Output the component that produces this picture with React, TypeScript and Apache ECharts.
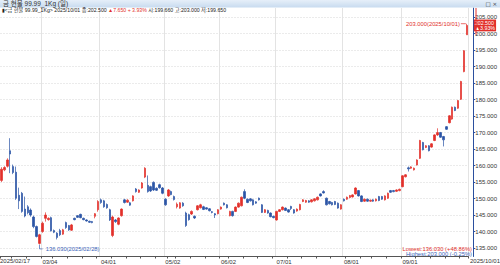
import React, { useEffect, useRef } from "react";
import * as echarts from "echarts";

const dates = [
  "2025/02/11","2025/02/12","2025/02/13","2025/02/14","2025/02/17","2025/02/18","2025/02/19","2025/02/20","2025/02/21","2025/02/24",
  "2025/02/25","2025/02/26","2025/02/27","2025/02/28","2025/03/04","2025/03/05","2025/03/06","2025/03/07","2025/03/10","2025/03/11",
  "2025/03/12","2025/03/13","2025/03/14","2025/03/17","2025/03/18","2025/03/19","2025/03/20","2025/03/21","2025/03/24","2025/03/25",
  "2025/03/26","2025/03/27","2025/03/28","2025/03/31","2025/04/01","2025/04/02","2025/04/03","2025/04/04","2025/04/07","2025/04/08",
  "2025/04/09","2025/04/10","2025/04/11","2025/04/14","2025/04/15","2025/04/16","2025/04/17","2025/04/18","2025/04/21","2025/04/22",
  "2025/04/23","2025/04/24","2025/04/25","2025/04/28","2025/04/29","2025/04/30","2025/05/02","2025/05/07","2025/05/08","2025/05/09",
  "2025/05/12","2025/05/13","2025/05/14","2025/05/15","2025/05/16","2025/05/19","2025/05/20","2025/05/21","2025/05/22","2025/05/23",
  "2025/05/26","2025/05/27","2025/05/28","2025/05/29","2025/05/30","2025/06/02","2025/06/04","2025/06/05","2025/06/09","2025/06/10",
  "2025/06/11","2025/06/12","2025/06/13","2025/06/16","2025/06/17","2025/06/18","2025/06/19","2025/06/20","2025/06/23","2025/06/24",
  "2025/06/25","2025/06/26","2025/06/27","2025/06/30","2025/07/01","2025/07/02","2025/07/03","2025/07/04","2025/07/07","2025/07/08",
  "2025/07/09","2025/07/10","2025/07/11","2025/07/14","2025/07/15","2025/07/16","2025/07/17","2025/07/18","2025/07/21","2025/07/22",
  "2025/07/23","2025/07/24","2025/07/25","2025/07/28","2025/07/29","2025/07/30","2025/07/31","2025/08/01","2025/08/04","2025/08/05",
  "2025/08/06","2025/08/07","2025/08/08","2025/08/11","2025/08/12","2025/08/13","2025/08/14","2025/08/18","2025/08/19","2025/08/20",
  "2025/08/21","2025/08/22","2025/08/25","2025/08/26","2025/08/27","2025/08/28","2025/08/29","2025/09/01","2025/09/02","2025/09/03",
  "2025/09/04","2025/09/05","2025/09/08","2025/09/09","2025/09/10","2025/09/11","2025/09/12","2025/09/15","2025/09/16","2025/09/17",
  "2025/09/18","2025/09/19","2025/09/22","2025/09/23","2025/09/24","2025/09/25","2025/09/26","2025/09/29","2025/09/30","2025/10/01",
];

const opens = [
  155.5,158.7,159.8,164.5,159.7,158.0,151.0,151.6,146.8,147.5,
  146.5,144.4,141.5,136.4,140.0,144.0,143.6,144.2,140.3,139.5,
  140.3,139.2,142.7,141.8,140.4,144.0,144.8,145.2,144.0,143.5,
  143.1,143.0,144.6,146.6,149.6,149.3,148.2,146.6,138.8,143.5,
  142.2,144.8,149.6,148.9,148.7,149.3,152.9,151.9,153.2,156.5,
  154.0,153.6,154.9,153.1,154.2,153.2,149.8,150.8,152.1,150.6,
  147.5,147.1,148.6,145.6,145.1,145.3,144.6,146.6,147.2,147.5,
  147.2,146.9,146.0,145.4,145.4,146.8,148.6,148.1,144.8,146.1,
  146.1,147.4,147.8,152.1,149.8,149.9,149.6,149.0,150.1,148.1,
  145.8,146.4,145.6,144.6,143.5,146.1,146.6,147.1,146.6,147.6,
  146.6,146.2,146.6,149.1,148.9,149.3,149.0,149.3,149.6,151.4,
  152.1,150.1,149.1,148.8,149.1,148.6,146.8,149.8,149.8,150.3,
  150.5,151.4,152.4,150.8,149.2,149.8,149.2,149.6,149.3,150.6,
  150.6,149.6,150.1,152.4,152.4,152.2,152.4,153.6,156.6,159.3,
  159.2,158.7,160.2,162.2,167.0,165.5,166.0,165.6,167.6,169.3,
  170.0,168.8,171.8,173.0,174.1,177.7,177.4,180.1,188.5,199.66,
];

const closes = [
  158.9,159.4,161.7,163.5,157.9,150.1,149.3,146.1,144.7,145.7,
  145.0,141.5,138.5,139.0,142.5,145.0,144.0,140.2,139.8,138.2,
  139.0,140.5,141.2,140.5,142.0,143.6,144.3,144.2,143.6,143.2,
  142.8,142.7,145.4,149.1,148.8,147.5,147.2,143.5,144.4,143.0,
  144.1,146.8,148.8,149.5,148.0,150.8,152.1,152.6,154.7,159.2,
  152.1,152.3,152.6,152.5,153.3,151.6,148.1,152.6,151.2,149.7,
  148.3,148.7,147.8,141.8,143.6,146.1,144.1,147.8,148.1,146.7,
  146.8,146.3,145.8,145.0,146.6,147.4,148.1,147.2,146.1,144.8,
  147.4,148.6,150.4,150.1,148.8,149.3,148.1,148.6,149.6,145.8,
  146.6,145.6,144.5,144.2,146.1,146.6,147.4,146.4,145.9,147.0,
  145.6,146.8,148.2,149.6,149.4,148.9,149.6,149.9,150.4,150.8,
  151.7,148.1,148.4,148.1,148.2,147.1,148.1,149.3,150.4,150.9,
  151.1,153.2,150.8,149.1,149.8,149.2,149.5,149.2,149.8,149.4,
  149.8,150.8,151.6,151.9,152.1,152.6,152.8,156.9,157.2,159.0,
  159.6,159.2,161.7,167.6,164.8,166.0,164.5,166.6,169.3,170.0,
  168.6,167.8,171.0,175.1,177.7,176.7,179.7,185.5,194.85,202.5,
];

const lows = [
  155.0,158.3,159.4,157.7,157.4,149.6,146.8,145.7,144.3,145.2,
  144.5,141.0,138.2,136.03,139.6,143.0,143.3,140.0,139.5,137.6,
  138.6,139.0,140.8,140.2,140.2,143.4,144.1,144.0,143.4,143.0,
  142.6,142.5,144.0,146.0,148.4,147.2,146.9,143.2,138.3,142.6,
  141.9,144.5,148.5,148.7,147.8,149.1,151.8,151.7,153.0,156.2,
  151.8,152.0,152.3,152.3,153.0,151.3,147.8,150.5,151.0,149.4,
  147.0,146.9,147.5,141.4,143.3,145.0,143.8,146.4,147.0,146.5,
  146.6,146.1,145.5,144.1,145.2,146.6,147.9,147.0,144.6,144.5,
  145.9,147.2,147.6,149.8,148.6,149.1,147.9,148.4,149.4,145.6,
  145.6,145.4,144.3,144.0,143.3,145.9,146.4,146.2,145.7,146.5,
  145.4,146.0,146.4,148.9,148.7,148.7,148.8,149.1,149.4,150.6,
  151.5,147.9,148.2,147.9,148.0,146.9,146.6,149.1,149.6,150.1,
  150.3,151.2,150.6,148.9,149.0,149.0,149.0,149.0,149.1,149.2,
  149.6,149.4,149.9,151.7,151.9,152.0,152.2,153.4,156.4,158.2,
  159.0,158.5,160.0,162.0,164.6,165.3,164.3,165.4,167.4,169.0,
  168.4,165.8,170.8,172.8,173.9,176.5,177.2,179.9,188.3,199.65,
];

const highs = [
  159.5,159.8,162.2,168.3,160.3,159.7,153.3,152.0,150.6,148.0,
  147.0,144.8,141.8,139.3,143.0,145.8,144.3,144.5,140.6,139.8,
  140.8,140.8,143.0,142.0,142.3,144.2,145.0,145.4,144.2,143.7,
  143.3,143.2,145.6,149.5,150.0,149.6,148.5,146.9,144.8,143.8,
  144.3,147.0,149.9,149.8,149.0,151.0,153.2,152.8,155.0,159.5,
  157.0,153.9,155.2,153.4,154.5,153.5,150.1,152.9,152.4,150.9,
  148.8,148.9,148.9,146.0,145.4,146.4,144.9,148.0,148.4,147.8,
  147.4,147.1,146.2,145.6,146.8,147.6,148.8,148.3,146.3,146.3,
  147.6,148.8,150.6,152.8,150.0,150.1,149.8,149.2,150.3,148.3,
  146.8,146.6,145.8,144.8,146.3,146.8,147.6,147.3,146.8,147.8,
  146.8,147.0,148.4,149.8,149.6,149.5,149.8,150.1,150.6,151.6,
  152.5,150.3,149.3,149.0,149.3,148.8,148.3,150.0,150.6,151.1,
  151.3,153.4,152.6,151.0,150.0,150.0,149.7,149.8,150.0,150.8,
  150.8,151.0,151.8,152.6,152.6,152.8,153.0,157.1,157.4,159.7,
  159.8,159.4,161.9,167.8,167.2,166.2,166.2,166.8,169.5,171.3,
  170.2,169.0,172.0,175.3,177.9,177.9,179.9,185.7,195.0,203.0,
];

const yTicks = [135, 140, 145, 150, 155, 160, 165, 170, 175, 180, 185, 190, 195, 200, 205];
const monthStarts = ["2025/03/04", "2025/04/01", "2025/05/02", "2025/06/02", "2025/07/01", "2025/08/01", "2025/09/01"];
const firstLabel = "2025/02/17";
const lastLabel = "2025/10/01";
const titleText = "금 현물 99.99_1Kg (일)";
const infoName = "<금 현물 99.99_1Kg>";
const lastPrice = 202.5;
const lastChange = "▲7.650 + 3.93%";
const lastPct = "▲3.93%";
const highestPoint = { date: "2025/10/01", value: 203.0 };
const lowestPoint = { date: "2025/02/28", value: 136.03 };
const lowestText = "Lowest:136.030 (+48.86%)";
const highestText = "Highest:203.000 (-0.25%)";

const UP = "#e2302b";
const DOWN = "#2b55a6";
const LOWBLUE = "#3a63b8";
const FONT = "Liberation Sans, Arial, Noto Sans CJK KR, sans-serif";
const Y_MIN = 132.42;
const Y_MAX = 207.79;

function isWeekStart(i: number) {
  if (i === 0) return true;
  const d0 = new Date(dates[i - 1].replace(/\//g, "-") + "T00:00:00");
  const d1 = new Date(dates[i].replace(/\//g, "-") + "T00:00:00");
  return d1.getDay() <= d0.getDay() || (d1.getTime() - d0.getTime()) > 3 * 86400000 + 1;
}

export default function App() {
  const ref = useRef<HTMLDivElement>(null);
  useEffect(() => {
    if (!ref.current) return;
    const chart = echarts.init(ref.current, null, { renderer: "svg" });
    const data = dates.map((_, i) => [opens[i], closes[i], lows[i], highs[i]]);
    const staticGraphics: any[] = [
      {
        type: "rect", id: "titlebar", shape: { x: 0, y: 0, width: 500, height: 7.5 },
        style: {
          fill: new echarts.graphic.LinearGradient(0, 0, 0, 1, [
            { offset: 0, color: "#e6eff9" },
            { offset: 1, color: "#c8dbef" },
          ]),
        },
        z: 10,
      },
      {
        type: "text", id: "title", x: 3, y: 3.8, z: 11,
        style: { text: titleText, fontSize: 6.5, fontFamily: FONT, fill: "#333", verticalAlign: "middle" },
      },
      {
        type: "text", id: "winicons", x: 497, y: 3.8, z: 11,
        style: { text: "□ ×", fontSize: 5.5, fontFamily: "DejaVu Sans", fill: "#333", align: "right", verticalAlign: "middle" },
      },
      {
        type: "text", id: "info", x: 1.5, y: 10.3, z: 11,
        style: {
          text: `{k|▮}{k|${infoName} ${lastLabel} 종:${lastPrice.toFixed(3)} }{r|${lastChange}}{k| 시:${opens[opens.length - 1].toFixed(3)} 고:${highs[highs.length - 1].toFixed(3)} 저:${lows[lows.length - 1].toFixed(3)}}`,
          verticalAlign: "middle",
          rich: {
            k: { fontSize: 5.2, fontFamily: FONT, fill: "#222", color: "#222" },
            r: { fontSize: 5.2, fontFamily: FONT, fill: UP, color: UP },
          },
        },
      },
      {
        type: "text", id: "firstdate", x: 0, y: 261, z: 11,
        style: { text: firstLabel, fontSize: 6, fontFamily: FONT, fill: "#333", verticalAlign: "middle" },
      },
      {
        type: "text", id: "lastdate", x: 500, y: 261, z: 11,
        style: { text: lastLabel, fontSize: 6, fontFamily: FONT, fill: "#333", align: "right", verticalAlign: "middle" },
      },
      {
        type: "text", id: "lowest", x: 472, y: 249, z: 11,
        style: { text: lowestText, fontSize: 5.8, fontFamily: FONT, fill: UP, align: "right", verticalAlign: "middle" },
      },
      {
        type: "text", id: "highest", x: 472, y: 254, z: 11,
        style: { text: highestText, fontSize: 5.8, fontFamily: FONT, fill: LOWBLUE, align: "right", verticalAlign: "middle" },
      },
    ];
    const option: any = {
      animation: false,
      backgroundColor: "#ffffff",
      grid: { left: 0, right: 29, top: 8, bottom: 8.3, containLabel: false },
      xAxis: {
        type: "category",
        data: dates,
        boundaryGap: true,
        axisLine: { lineStyle: { color: "#555", width: 1 } },
        axisTick: { show: true, length: 2, lineStyle: { color: "#555" }, interval: (i: number) => isWeekStart(i) },
        axisLabel: {
          interval: (i: number, v: string) => monthStarts.includes(v),
          formatter: (v: string) => v.slice(5),
          align: "left",
          fontSize: 6,
          fontFamily: FONT,
          color: "#333",
          margin: 2.5,
        },
        splitLine: {
          show: true,
          interval: (i: number, v: string) => monthStarts.includes(v),
          lineStyle: { color: "#e3e3e3", width: 1 },
        },
      },
      yAxis: {
        type: "value",
        position: "right",
        offset: 5,
        min: Y_MIN,
        max: Y_MAX,
        scale: true,
        axisLine: { show: true, lineStyle: { color: "#2b4f9e", width: 1 } },
        axisTick: { show: true, length: 2, lineStyle: { color: "#2b4f9e" }, customValues: yTicks },
        axisLabel: {
          customValues: yTicks,
          formatter: (v: number) => v.toFixed(3),
          fontSize: 6,
          fontFamily: FONT,
          color: "#333",
          margin: 2,
        },
        splitLine: { show: true, lineStyle: { color: "#ebebeb", width: 1, type: [2, 1] } },
      },
      series: [
        {
          type: "candlestick",
          data,
          barWidth: 2,
          itemStyle: { color: UP, color0: DOWN, borderColor: UP, borderColor0: DOWN, borderWidth: 0.7 },
          markPoint: {
            silent: true,
            data: [
              {
                coord: [highestPoint.date, highestPoint.value],
                symbol: "rect",
                symbolSize: [5, 0.7],
                symbolOffset: [-3.5, 0],
                itemStyle: { color: UP },
                label: {
                  show: true, position: "left", distance: 1,
                  formatter: `${highestPoint.value.toFixed(3)}(${highestPoint.date})`,
                  color: UP, fontSize: 5.8, fontFamily: FONT,
                },
              },
              {
                coord: [lowestPoint.date, lowestPoint.value],
                symbol: "path://M0 0V4H3",
                symbolSize: [3, 4],
                symbolOffset: [1.5, 2.3],
                symbolKeepAspect: false,
                itemStyle: { color: "none", borderColor: LOWBLUE, borderWidth: 0.7 },
                label: {
                  show: true, position: "right", distance: 1, offset: [0, 1.8],
                  formatter: `${lowestPoint.value.toFixed(3)}(${lowestPoint.date})`,
                  color: LOWBLUE, fontSize: 5.8, fontFamily: FONT,
                },
              },
            ],
          },
          markLine: {
            silent: true,
            symbol: "none",
            lineStyle: { color: "rgba(0,0,0,0)", width: 1, type: "solid" },
            label: {
              show: true,
              position: "end",
              distance: 5.5,
              formatter: `{a|${lastPrice.toFixed(3)}}\n{a|${lastPct}}`,
              backgroundColor: UP,
              color: "#fff",
              padding: [0.5, 1, 0.5, 1],
              rich: { a: { color: "#fff", fontSize: 5.3, lineHeight: 5.4, fontFamily: FONT } },
            },
            data: [{ yAxis: lastPrice }],
          },
        },
      ],
      graphic: staticGraphics,
    };
    chart.setOption(option);
    const yTop = chart.convertToPixel({ yAxisIndex: 0 }, Y_MAX) as number;
    const yLow = chart.convertToPixel({ yAxisIndex: 0 }, lows[lows.length - 1]) as number;
    chart.setOption({
      graphic: [
        ...staticGraphics,
        {
          type: "line", id: "redaxis", z: 9,
          shape: { x1: 476, y1: yTop, x2: 476, y2: yLow },
          style: { stroke: UP, lineWidth: 1 },
        },
      ],
    });
    return () => chart.dispose();
  }, []);
  return <div ref={ref} style={{ position: "fixed", left: 0, top: 0, width: 500, height: 265 }} />;
}
